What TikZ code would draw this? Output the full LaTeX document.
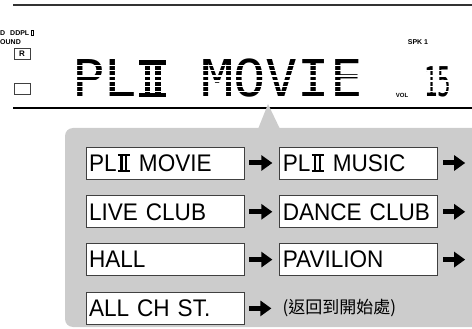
\documentclass[tikz,border=0pt]{standalone}
\usepackage{fontspec}
\setmainfont{Liberation Sans}
\newfontfamily\boxfont[FakeStretch=0.94]{Liberation Sans}
\newfontfamily\lcdfont{DejaVu Sans Mono}
\newfontfamily\cjkfont{Noto Sans CJK TC}
\usetikzlibrary{arrows.meta, positioning}

% Roman numeral two, built from rules
\newcommand\romtwo{\kern0.05em\rlap{\rule{0.5em}{0.08em}}\rlap{\rule[0.64em]{0.5em}{0.08em}}\kern0.1em\rule{0.1em}{0.72em}\kern0.1em\rule{0.1em}{0.72em}\kern0.15em}

\begin{document}
\begin{tikzpicture}[
  x=1pt, y=-1pt,
  font=\boxfont\fontsize{24}{28}\selectfont,
  >=Stealth,
  modebox/.style={
    rectangle, draw=black!75, line width=0.8pt, fill=white,
    minimum width=158pt, minimum height=32pt, text width=152pt,
    inner xsep=3pt, align=left
  },
  nextarrow/.style={line width=5pt, -{Triangle[length=11pt, width=15pt]},
    shorten <=5pt, shorten >=7pt},
  lcd/.style={inner sep=0pt, anchor=base west, font=\lcdfont},
  tag/.style={inner sep=0pt, font=\rmfamily\fontsize{7}{7}\selectfont\bfseries},
  smallbox/.style={draw=black!75, line width=0.7pt, minimum width=16pt,
    minimum height=11pt, inner sep=0pt}
]
\useasboundingbox (0,0) rectangle (472,329);

% Display frame
\draw[line width=1.6pt, black!80] (13,5) -- (480,5);
\draw[line width=1.2pt] (13,108) -- (480,108);

% Indicators on the left
\node[tag, anchor=west] (dolbyleft) at (0,33) {D};
\node[tag, anchor=west] (dolby) at (10,33) {DDPL\,\romtwo};
\node[tag, anchor=west] (surround) at (0,42) {OUND};
\node[smallbox, font=\rmfamily\fontsize{8}{8}\selectfont\bfseries] (rbox) at (22,53.5) {R};
\node[smallbox] (emptybox) at (22,88.5) {};

% Dot-matrix readout
\node[lcd] (readout) at (72,97) {\scalebox{1.056}[1]{\fontsize{50.75}{50}\selectfont PL\romtwo\ MOVIE}};
\node[lcd] (volume) at (424,97) {\scalebox{0.55}[1]{\fontsize{41}{41}\selectfont 15}};
\foreach \k in {1,...,6} {
  \draw[white, line width=1.5pt] (70,60+\k*5.29) -- (362,60+\k*5.29);
  \draw[white, line width=1.5pt] (420,60+\k*5.29) -- (458,60+\k*5.29);
}

% Small labels
\node[tag] (spk) at (418,42) {SPK 1};
\node[tag, font=\rmfamily\fontsize{6}{6}\selectfont\bfseries] (vol) at (402,95) {VOL};

% Callout
\fill[black!20, rounded corners=8pt] (65,128) rectangle (490,327);
\fill[black!20] (258,129) -- (268,104) -- (280,129) -- cycle;

% Mode boxes
\node[modebox] (movie) at (165,163) {PL\romtwo\ MOVIE};
\node[modebox, right=35pt of movie] (music) {PL\romtwo\ MUSIC};
\node[modebox, below=16pt of movie] (live) {LIVE CLUB};
\node[modebox, right=35pt of live] (dance) {DANCE CLUB};
\node[modebox, below=15pt of live] (hall) {HALL};
\node[modebox, right=35pt of hall] (pavilion) {PAVILION};
\node[modebox, below=16pt of hall] (allch) {ALL CH ST.};
\node[right=38pt of allch, inner sep=0pt, font=\cjkfont\fontsize{17}{20}\selectfont] (back) {(返回到開始處)};

% Free ends on the right
\coordinate[right=27pt of music] (musicnext);
\coordinate[right=27pt of dance] (dancenext);
\coordinate[right=27pt of pavilion] (pavilionnext);

% Arrows
\draw[nextarrow] (movie) -- (music);
\draw[nextarrow] (live) -- (dance);
\draw[nextarrow] (hall) -- (pavilion);
\draw[nextarrow, shorten >=0pt] (music) -- (musicnext);
\draw[nextarrow, shorten >=0pt] (dance) -- (dancenext);
\draw[nextarrow, shorten >=0pt] (pavilion) -- (pavilionnext);
\draw[nextarrow, shorten >=11pt] (allch) -- (back);

\end{tikzpicture}
\end{document}
